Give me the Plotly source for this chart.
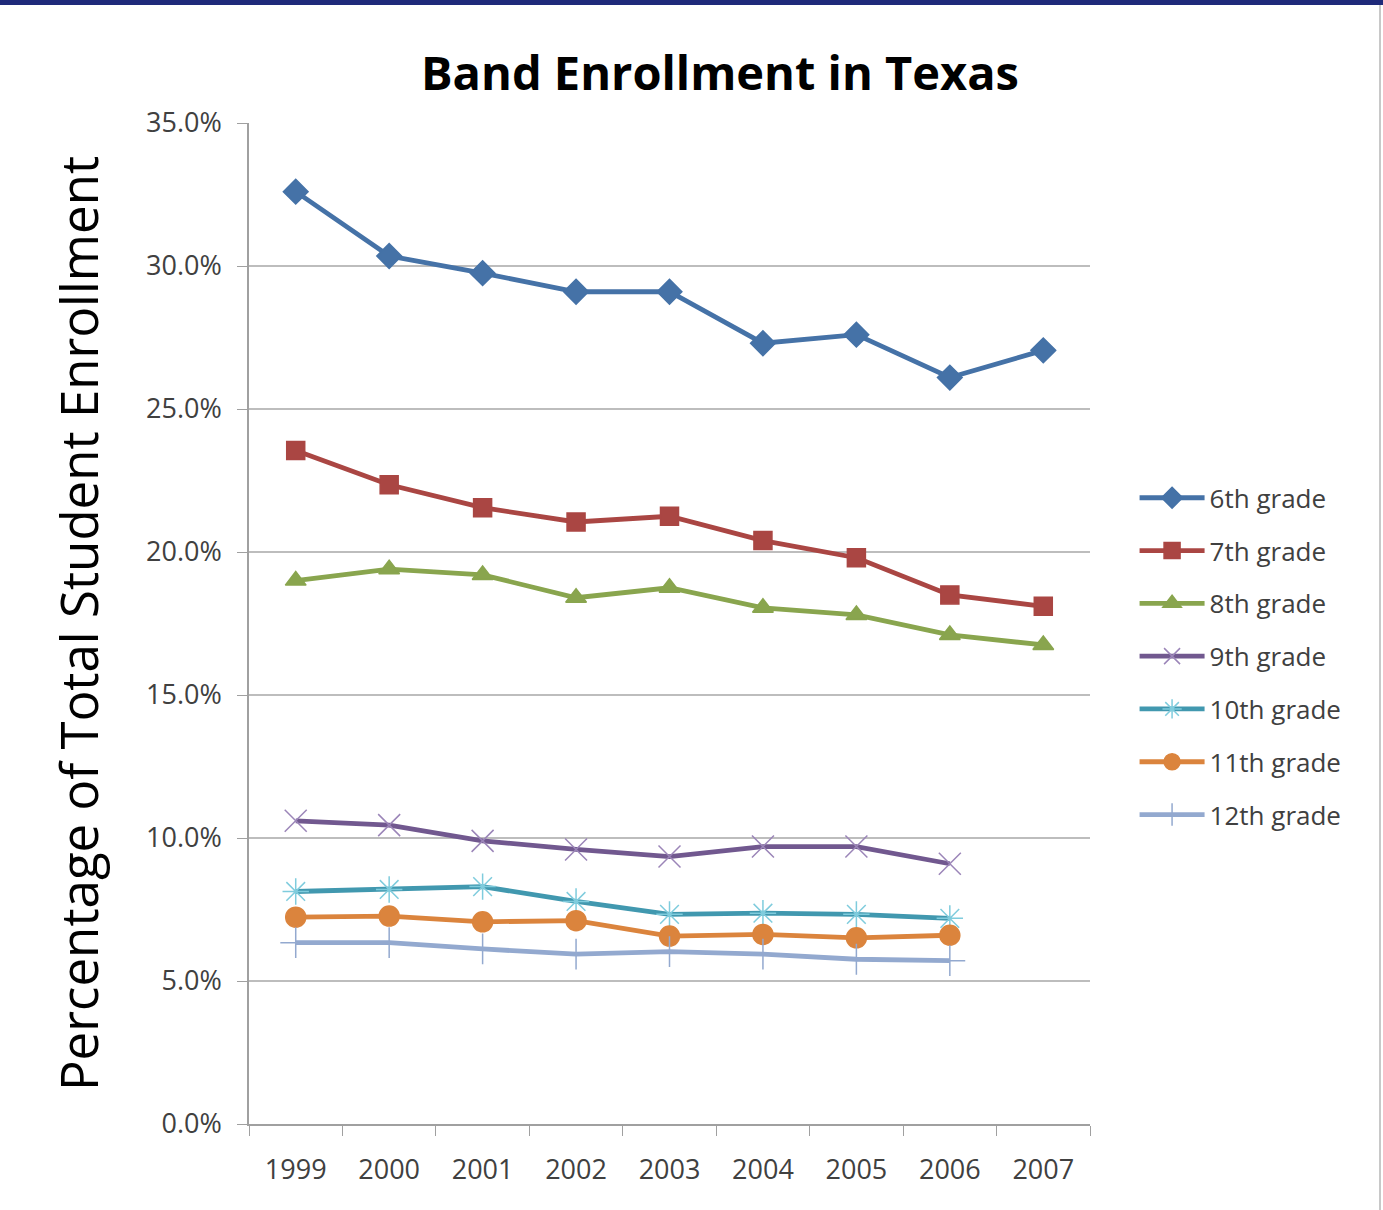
import plotly.graph_objects as go

years = ["1999", "2000", "2001", "2002", "2003", "2004", "2005", "2006", "2007"]
grade6 = [32.6, 30.35, 29.75, 29.1, 29.1, 27.3, 27.6, 26.1, 27.05]
grade7 = [23.55, 22.35, 21.55, 21.05, 21.25, 20.4, 19.8, 18.5, 18.1]
grade8 = [19.0, 19.4, 19.2, 18.4, 18.75, 18.05, 17.8, 17.1, 16.75]
grade9 = [10.6, 10.45, 9.9, 9.6, 9.35, 9.7, 9.7, 9.1]
grade10 = [8.13, 8.2, 8.3, 7.78, 7.33, 7.37, 7.33, 7.19]
grade11 = [7.23, 7.27, 7.07, 7.11, 6.57, 6.63, 6.51, 6.6]
grade12 = [6.34, 6.34, 6.12, 5.94, 6.03, 5.94, 5.76, 5.71]
names = ["6th grade", "7th grade", "8th grade", "9th grade", "10th grade", "11th grade", "12th grade"]

series = [grade6, grade7, grade8, grade9, grade10, grade11, grade12]
colors = ["#4572A7", "#AA4643", "#89A54E", "#71588F", "#4198AF", "#DB843D", "#93A9CF"]
marker_colors = ["#4572A7", "#AA4643", "#89A54E", "#9B85B8", "#7FCCDD", "#DB843D", "#93A9CF"]
symbols = ["diamond", "square", "triangle-up", "x-thin", "asterisk", "circle", "cross-thin"]
sizes = [19, 18, 18, 22, 22, 20, 22]

FONT = "Open Sans, Lato, sans-serif"

fig = go.Figure()
for i, (vals, name, c, mc, sym, sz) in enumerate(zip(series, names, colors, marker_colors, symbols, sizes)):
    fig.add_trace(go.Scatter(
        x=years[:len(vals)], y=vals, name=name, mode="lines+markers",
        legendgroup="g%d" % i,
        line=dict(color=c, width=4.8),
        marker=dict(symbol=sym, size=sz, color=mc, line=dict(color=mc, width=1.5)),
    ))

fig.update_layout(
    width=1383, height=1210,
    margin=dict(l=249, r=293, t=123, b=86),
    paper_bgcolor="white", plot_bgcolor="white",
    font=dict(family=FONT, color="#404040"),
    title=dict(text="<b>Band Enrollment in Texas</b>", x=720 / 1383, xanchor="center",
               y=1 - 74 / 1210, yanchor="middle",
               font=dict(size=47, color="black", family=FONT)),
    showlegend=True,
    legend=dict(x=1.053, xanchor="left", y=0.649, yanchor="top",
                font=dict(size=26, color="#404040"), itemwidth=65,
                tracegroupgap=16, bgcolor="rgba(0,0,0,0)"),
    xaxis=dict(type="category", range=[-0.5, 8.5], showgrid=False,
               showline=True, linecolor="#A0A0A0", linewidth=1.5,
               ticks="outside", tickson="boundaries", ticklen=10, tickcolor="#A0A0A0",
               tickfont=dict(size=27, color="#404040"), ticklabelstandoff=21),
    yaxis=dict(range=[0, 35], dtick=5, tickformat=".1f", ticksuffix="%",
               showgrid=True, gridcolor="#BDBDBD", gridwidth=1.5,
               showline=True, linecolor="#A0A0A0", linewidth=1.5,
               ticks="outside", ticklen=10, tickcolor="#A0A0A0",
               tickfont=dict(size=27, color="#404040"), ticklabelstandoff=10,
               zeroline=False,
               title=dict(text="Percentage of Total Student Enrollment",
                          font=dict(size=51, color="black", family=FONT), standoff=31)),
    shapes=[
        dict(type="rect", xref="paper", yref="paper", x0=-249/841, x1=(1383-249)/841,
             y0=1 + 118/1001, y1=1 + 123/1001, fillcolor="#1F2A7A", line=dict(width=0)),
        dict(type="line", xref="paper", yref="paper", x0=(1380-249)/841, x1=(1380-249)/841,
             y0=-86/1001, y1=1 + 118/1001, line=dict(color="#C8C8C8", width=2)),
    ],
)

fig.write_html("out.html")
